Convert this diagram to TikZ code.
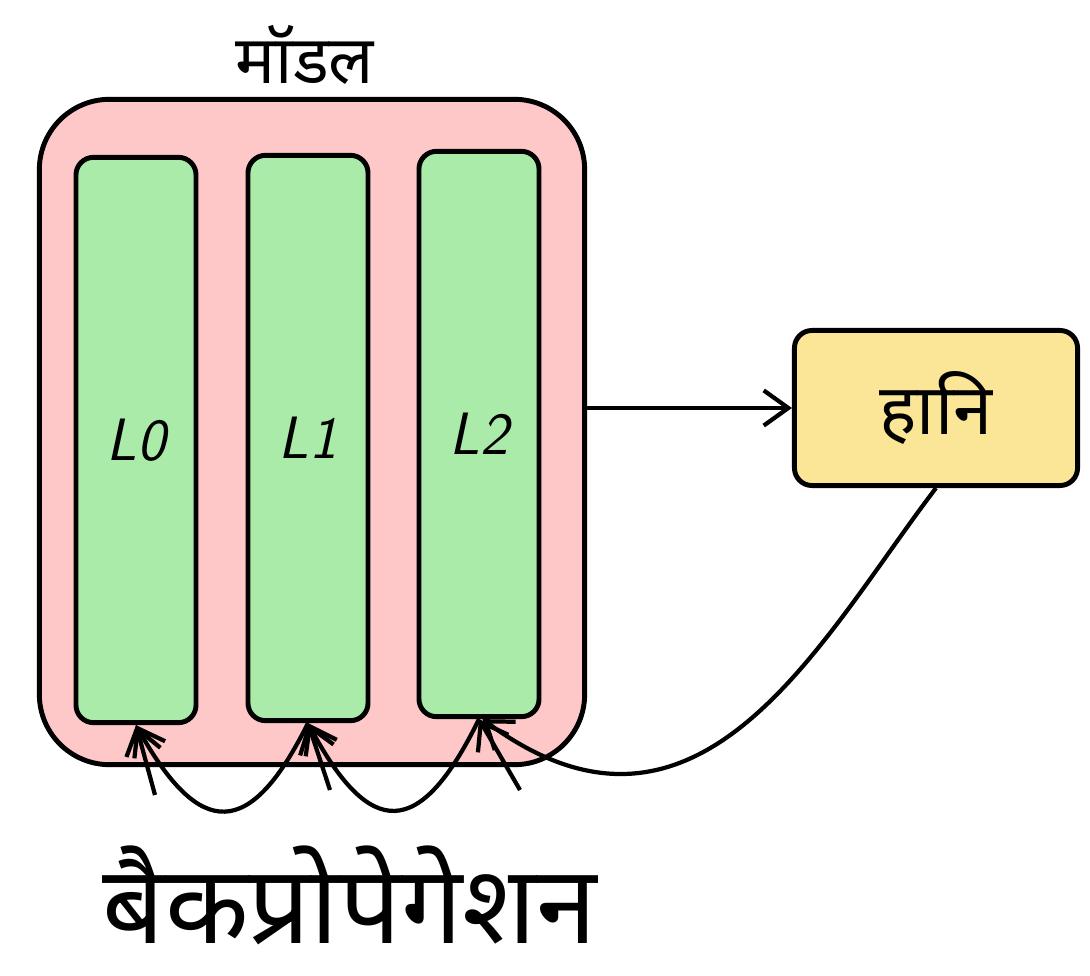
\documentclass[tikz,border=0pt]{standalone}
\usepackage{fontspec}
\newfontfamily\deva[Script=Devanagari]{Noto Sans}
\usepackage{tikz}
\usetikzlibrary{arrows.meta}
\definecolor{modelpink}{RGB}{255,200,200}
\definecolor{layergreen}{RGB}{170,235,170}
\definecolor{lossyellow}{RGB}{250,230,150}
\tikzset{
  box/.style={draw,line width=1.4pt,rounded corners=5pt},
  layer/.style={box,fill=layergreen,minimum width=1.2cm,minimum height=5.65cm,font=\sffamily\itshape\fontsize{17}{17}\selectfont},
  arr/.style={line width=1.2pt,-{Straight Barb[length=7pt,width=10pt]}},
}
\begin{document}
\begin{tikzpicture}[x=0.01cm,y=-0.01cm]
    \useasboundingbox (0,0) rectangle (1090,976);
    \node[box,fill=modelpink,rounded corners=20pt,minimum width=5.45cm,minimum height=6.65cm] (model) at (312,432) {};
    \node[layer] (L0) at (136,440) {L0};
    \node[layer] (L1) at (308,438) {L1};
    \node[layer] (L2) at (479,434) {L2};
    \node[font=\deva\fontsize{19}{19}\selectfont] (title) at (305,55) {मॉडल};
    \node[box,fill=lossyellow,minimum width=2.83cm,minimum height=1.55cm,font=\deva\fontsize{20}{20}\selectfont] (loss) at (936,408) {हानि};
    \node[font=\deva\fontsize{31}{31}\selectfont] (bp) at (350,895) {बैकप्रोपेगेशन};
    \coordinate (t0) at (155,795);
    \coordinate (t1) at (330,790);
    \coordinate (t2) at (520,790);
    %% forward
    \draw[arr] (model.east |- loss.west) -- (loss.west);
    %% backward
    \draw[arr] (loss.south) .. controls (820,640) and (700,880) .. ([xshift=1pt]L2.south);
    \draw[arr] (L2.south) .. controls (420,840) and (370,840) .. (L1.south);
    \draw[arr] (L1.south) .. controls (250,840) and (200,840) .. (L0.south);
    \draw[arr] (t0) -- (L0.south);
    \draw[arr] (t1) -- (L1.south);
    \draw[arr] (t2) -- (L2.south);
\end{tikzpicture}
\end{document}
